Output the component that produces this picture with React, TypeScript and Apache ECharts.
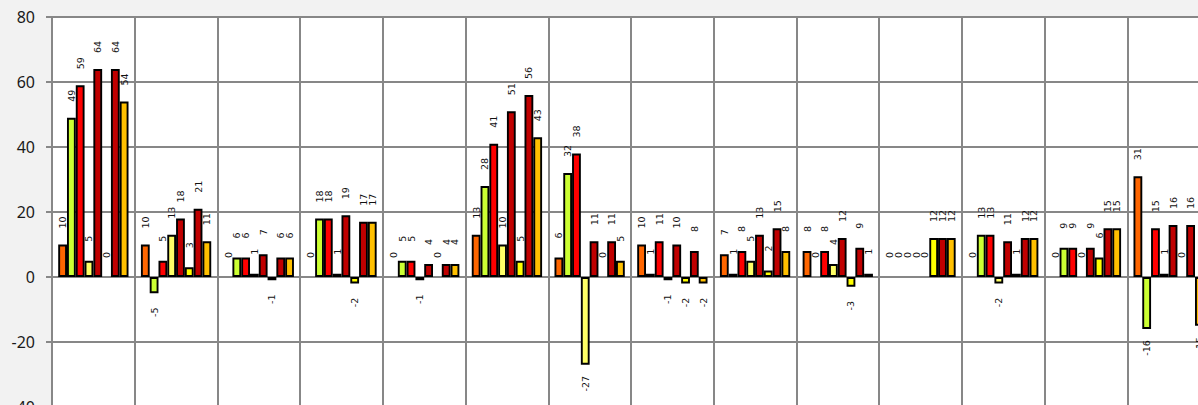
import React, { useEffect, useRef } from "react";
import * as echarts from "echarts";

const categories = ["1", "2", "3", "4", "5", "6", "7", "8", "9", "10", "11", "12", "13", "14"];
const seriesNames = ["S1", "S2", "S3", "S4", "S5", "S6", "S7", "S8"];
const s1 = [10, 10, 0, 0, 0, 13, 6, 10, 7, 8, 0, 0, 0, 31];
const s2 = [49, -5, 6, 18, 5, 28, 32, 1, 1, 0, 0, 13, 9, -16];
const s3 = [59, 5, 6, 18, 5, 41, 38, 11, 8, 8, 0, 13, 9, 15];
const s4 = [5, 13, 1, 1, -1, 10, -27, -1, 5, 4, 0, -2, 0, 1];
const s5 = [64, 18, 7, 19, 4, 51, 11, 10, 13, 12, 0, 11, 9, 16];
const s6 = [0, 3, -1, -2, 0, 5, 0, -2, 2, -3, 12, 1, 6, 0];
const s7 = [64, 21, 6, 17, 4, 56, 11, 8, 15, 9, 12, 12, 15, 16];
const s8 = [54, 11, 6, 17, 4, 43, 5, -2, 8, 1, 12, 12, 15, -15];
const colors = ["#FF6600", "#CCFF33", "#FF0000", "#FFFF66", "#C00000", "#FFFF00", "#C00000", "#FFC000"];
const yTicks = { min: -40, max: 80, interval: 20 };

export default function App() {
  const ref = useRef<HTMLDivElement>(null);
  useEffect(() => {
    const chart = echarts.init(ref.current!, null, { renderer: "svg" });
    const allSeries = [s1, s2, s3, s4, s5, s6, s7, s8];
    chart.setOption({
      animation: false,
      backgroundColor: "#F2F2F2",
      grid: {
        left: 52,
        top: 17,
        width: 1158,
        height: 390,
        show: true,
        backgroundColor: "#ffffff",
        borderWidth: 0,
        containLabel: false,
        outerBoundsMode: "none",
      },
      xAxis: {
        type: "category",
        data: categories,
        axisLine: { show: false },
        axisTick: { show: false },
        axisLabel: { show: false },
        splitLine: { show: true, interval: 0, lineStyle: { color: "#878787", width: 2 } },
      },
      yAxis: {
        type: "value",
        min: yTicks.min,
        max: yTicks.max,
        interval: yTicks.interval,
        axisLine: { show: true, lineStyle: { color: "#878787", width: 2 } },
        axisTick: { show: true, length: 6, lineStyle: { color: "#878787", width: 2 } },
        axisLabel: { margin: 17, fontFamily: "Noto Sans", fontSize: 16, color: "#1a1a1a" },
        splitLine: { show: true, lineStyle: { color: "#878787", width: 2 } },
      },
      series: allSeries.map((vals, i) => ({
        type: "bar",
        name: seriesNames[i],
        barGap: "0%",
        barCategoryGap: "15%",
        itemStyle: { color: colors[i], borderColor: "#000", borderWidth: 1.9 },
        label: {
          show: true,
          position: "top",
          rotate: 90,
          distance: 22,
          align: "center",
          verticalAlign: "middle",
          fontFamily: "DejaVu Sans",
          fontSize: 9.5,
          color: "#111",
        },
        data: vals.map((v) => ({
          value: v,
          ...(v === 0 ? { itemStyle: { borderWidth: 0 } } : {}),
          ...(v < 0 ? { label: { position: "bottom", distance: 19 } } : {}),
        })),
      })),
    });
    return () => chart.dispose();
  }, []);
  return <div ref={ref} style={{ position: "fixed", left: 0, top: 0, width: 1198, height: 405 }} />;
}
